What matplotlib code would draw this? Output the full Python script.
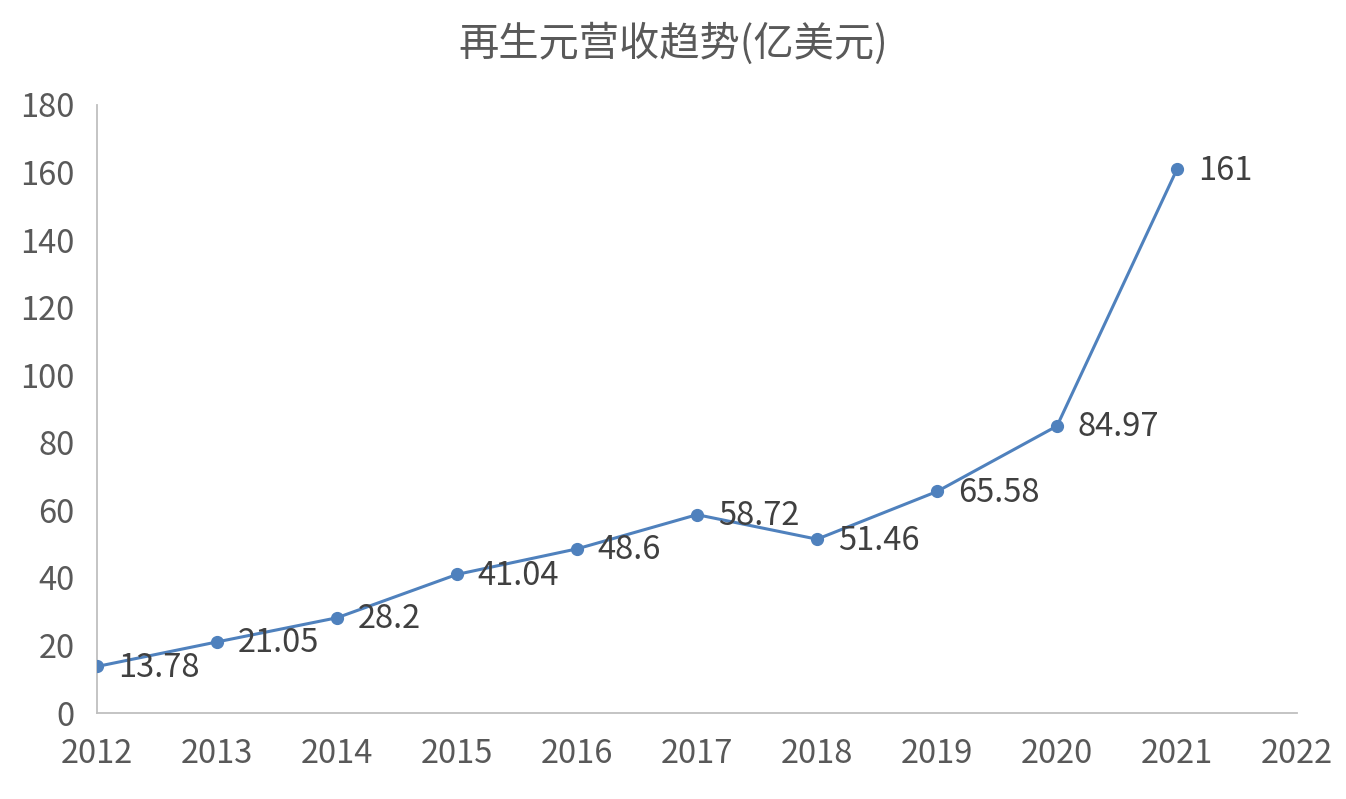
import matplotlib
matplotlib.use("Agg")
import matplotlib.pyplot as plt

plt.rcParams['font.family'] = ['Noto Sans CJK SC', 'DejaVu Sans']

years = [2012, 2013, 2014, 2015, 2016, 2017, 2018, 2019, 2020, 2021]
revenue = [13.78, 21.05, 28.2, 41.04, 48.6, 58.72, 51.46, 65.58, 84.97, 161]
labels = ["13.78", "21.05", "28.2", "41.04", "48.6", "58.72", "51.46", "65.58", "84.97", "161"]
x_ticks = list(range(2012, 2023))
y_ticks = list(range(0, 181, 20))
title = "再生元营收趋势(亿美元)"

fig = plt.figure(figsize=(13.46, 7.99), dpi=100)
ax = fig.add_axes([0.0721, 0.1076, 0.8915, 0.761])

ax.plot(years, revenue, color='#4f81bd', linewidth=2.2, marker='o', markersize=8.5, zorder=3)
for x, y, t in zip(years, revenue, labels):
    ax.annotate(t, (x, y), xytext=(15, -1), textcoords='offset points',
                ha='left', va='center', fontsize=23.5, color='#404040')

ax.set_xlim(2012, 2022)
ax.set_ylim(0, 180)
ax.set_xticks(x_ticks)
ax.set_yticks(y_ticks)
ax.tick_params(axis='both', length=0, labelsize=23.5, labelcolor='#595959')
ax.tick_params(axis='x', pad=18)
ax.tick_params(axis='y', pad=16)
for s in ['top', 'right']:
    ax.spines[s].set_visible(False)
for s in ['left', 'bottom']:
    ax.spines[s].set_color('#bfbfbf')
    ax.spines[s].set_linewidth(1.3)

fig.text(0.5, 0.945, title, ha='center', va='center', fontsize=29, color='#595959')

fig.savefig('out.png', dpi=100)
